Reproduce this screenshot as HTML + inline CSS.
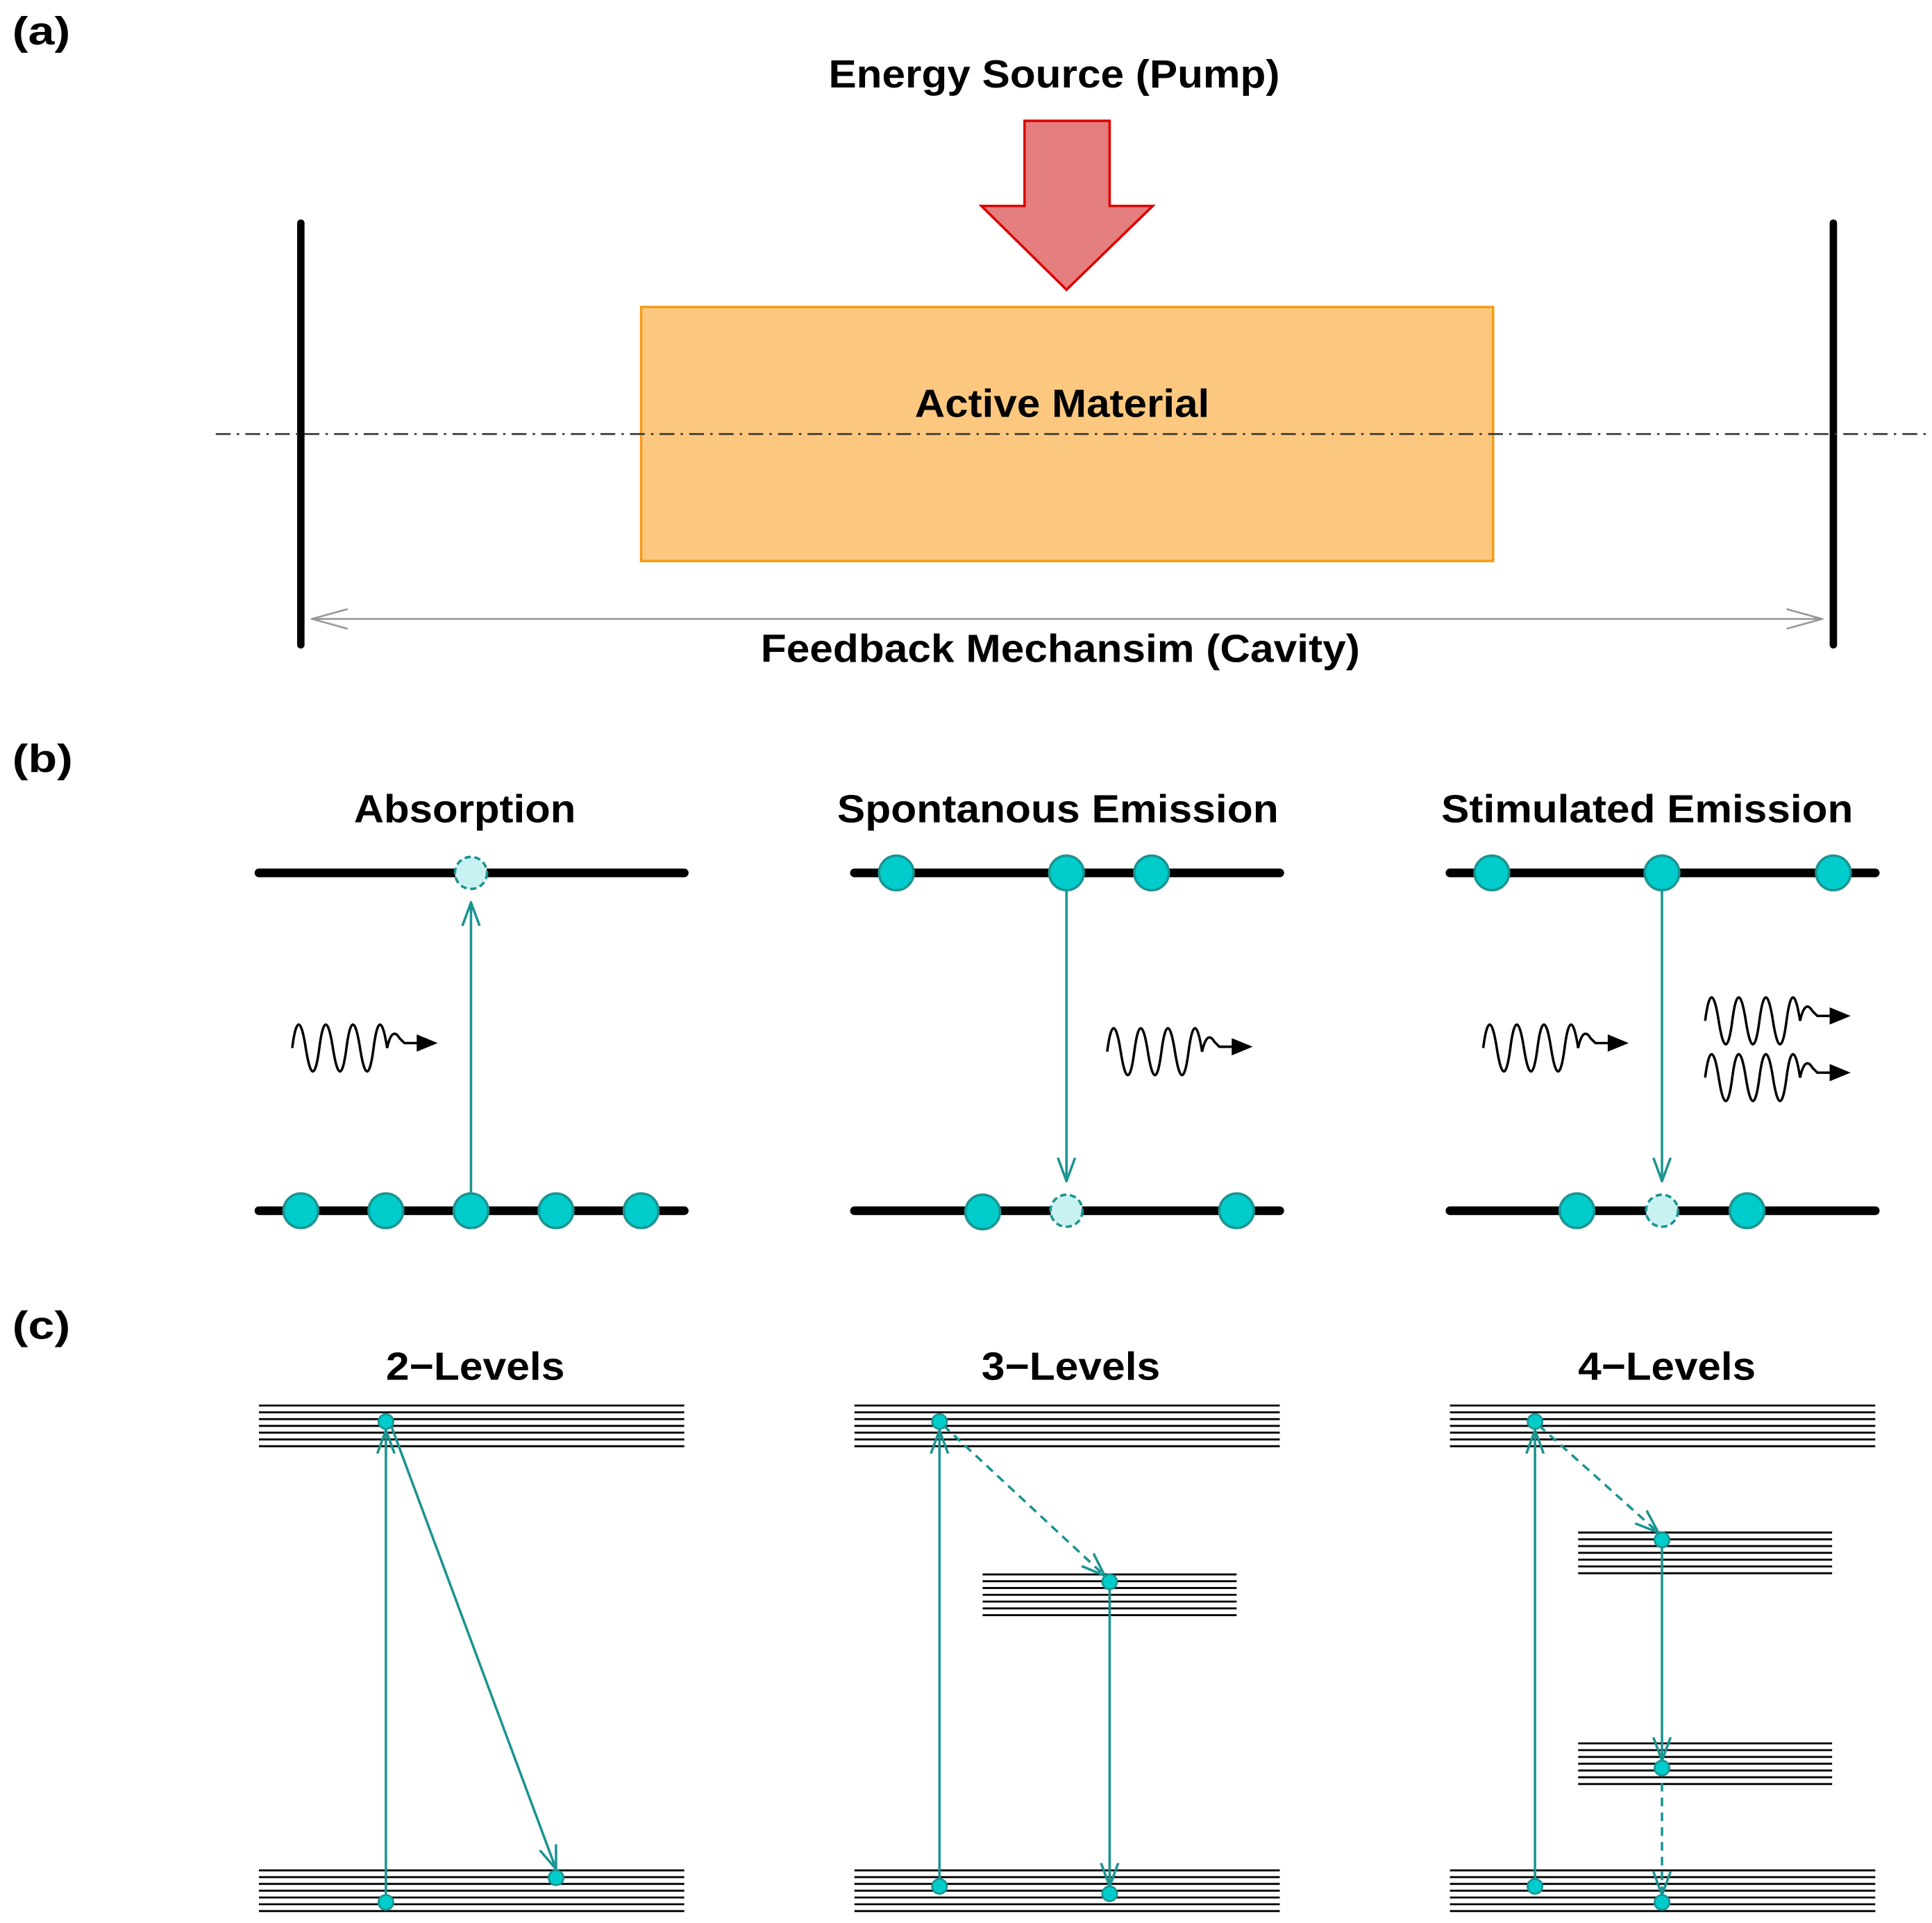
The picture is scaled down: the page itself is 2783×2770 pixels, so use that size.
<!DOCTYPE html>
<html><head><meta charset="utf-8"><style>
html,body{margin:0;padding:0;background:#fff}
svg{display:block}
text{font-family:"Liberation Sans",Arial,sans-serif;font-weight:bold;fill:#000}
</style></head><body>
<svg width="2783" height="2770" viewBox="0 0 1567 1559.7" preserveAspectRatio="none" xmlns="http://www.w3.org/2000/svg">
<defs>
<marker id="oa" viewBox="0 0 20 20" refX="19" refY="10" markerWidth="20" markerHeight="20" markerUnits="userSpaceOnUse" orient="auto">
<path d="M0,3 L19,10 L0,17" fill="none" stroke="#1a9490" stroke-width="2"/>
</marker>
<marker id="ga" viewBox="0 0 30 20" refX="29" refY="10" markerWidth="30" markerHeight="20" markerUnits="userSpaceOnUse" orient="auto-start-reverse">
<path d="M0,2 L29,10 L0,18" fill="none" stroke="#999" stroke-width="1.5"/>
</marker>
</defs>

<!-- (a) -->
<text x="10" y="36" font-size="32" textLength="47" lengthAdjust="spacingAndGlyphs">(a)</text>
<text x="672" y="71" font-size="32" textLength="366" lengthAdjust="spacingAndGlyphs">Energy Source (Pump)</text>
<path d="M831,98 L900,98 L900,167 L935,167 L865,235 L796,167 L831,167 Z" fill="#e57e7e" stroke="#dd0000" stroke-width="2"/>
<line x1="244" y1="181" x2="244" y2="523" stroke="#000" stroke-width="6" stroke-linecap="round"/>
<line x1="1487" y1="181" x2="1487" y2="523" stroke="#000" stroke-width="6" stroke-linecap="round"/>
<rect x="520" y="249" width="691" height="206" fill="#fcc880" stroke="#f59b14" stroke-width="2"/>
<text x="742" y="338" font-size="32" textLength="239" lengthAdjust="spacingAndGlyphs">Active Material</text>
<line x1="175" y1="352" x2="1567" y2="352" stroke="#333" stroke-width="1.5" stroke-dasharray="12,5,2,5"/>
<line x1="253" y1="502" x2="1478" y2="502" stroke="#999" stroke-width="1.5" marker-start="url(#ga)" marker-end="url(#ga)"/>
<text x="617" y="537" font-size="32" textLength="486" lengthAdjust="spacingAndGlyphs">Feedback Mechansim (Cavity)</text>

<!-- (b) -->
<text x="10" y="626" font-size="32" textLength="49" lengthAdjust="spacingAndGlyphs">(b)</text>
<text x="287" y="667" font-size="32" textLength="180" lengthAdjust="spacingAndGlyphs">Absorption</text>
<text x="679" y="667" font-size="32" textLength="358" lengthAdjust="spacingAndGlyphs">Spontanous Emission</text>
<text x="1169" y="667" font-size="32" textLength="334" lengthAdjust="spacingAndGlyphs">Stimulated Emission</text>
<g stroke="#000" stroke-width="7" stroke-linecap="round">
<line x1="210" y1="708" x2="555" y2="708"/><line x1="693" y1="708" x2="1038" y2="708"/><line x1="1176" y1="708" x2="1521" y2="708"/>
<line x1="210" y1="982" x2="555" y2="982"/><line x1="693" y1="982" x2="1038" y2="982"/><line x1="1176" y1="982" x2="1521" y2="982"/>
</g>
<g stroke="#1a9490" stroke-width="2" fill="none">
<line x1="382" y1="968" x2="382" y2="732" marker-end="url(#oa)"/>
<line x1="865" y1="722" x2="865" y2="958" marker-end="url(#oa)"/>
<line x1="1348" y1="722" x2="1348" y2="958" marker-end="url(#oa)"/>
</g>
<g fill="#00cccc" stroke="#1a9490" stroke-width="2">
<circle cx="244" cy="982" r="14"/><circle cx="313" cy="982" r="14"/><circle cx="382" cy="982" r="14"/><circle cx="451" cy="982" r="14"/><circle cx="520" cy="982" r="14"/>
<circle cx="727" cy="708" r="14"/><circle cx="865" cy="708" r="14"/><circle cx="934" cy="708" r="14"/>
<circle cx="797" cy="983" r="14"/><circle cx="1003" cy="982" r="14"/>
<circle cx="1210" cy="708" r="14"/><circle cx="1348" cy="708" r="14"/><circle cx="1487" cy="708" r="14"/>
<circle cx="1279" cy="982" r="14"/><circle cx="1417" cy="982" r="14"/>
</g>
<g fill="#c8f2f2" stroke="#1a9490" stroke-width="2" stroke-dasharray="5,3">
<circle cx="382" cy="708" r="13"/><circle cx="865" cy="982" r="13"/><circle cx="1348" cy="982" r="13"/>
</g>
<!-- waves -->
<g fill="none" stroke="#000" stroke-width="2">
<path id="w" d="M237,850 q5,-38 11,0 t11,0 t11,0 t11,0 t11,0 t11,0 t11,0 q4,-18 10,-8 l4,4 l14,0"/>
<use href="#w" x="661" y="3"/>
<use href="#w" x="966" y="0"/>
<use href="#w" x="1146" y="-22"/>
<use href="#w" x="1146" y="24"/>
</g>
<g fill="#000">
<path id="ah" d="M338,839 L355,846 L338,853 Z"/>
<use href="#ah" x="661" y="3"/>
<use href="#ah" x="966" y="0"/>
<use href="#ah" x="1146" y="-22"/>
<use href="#ah" x="1146" y="24"/>
</g>

<!-- (c) -->
<text x="10" y="1086" font-size="32" textLength="47" lengthAdjust="spacingAndGlyphs">(c)</text>
<text x="313" y="1119" font-size="32" textLength="145" lengthAdjust="spacingAndGlyphs">2−Levels</text>
<text x="796" y="1119" font-size="32" textLength="145" lengthAdjust="spacingAndGlyphs">3−Levels</text>
<text x="1280" y="1119" font-size="32" textLength="144" lengthAdjust="spacingAndGlyphs">4−Levels</text>
<g stroke="#000" stroke-width="1.6">
<g id="bandT">
<line x1="210" y1="1140" x2="555" y2="1140"/><line x1="210" y1="1145.5" x2="555" y2="1145.5"/><line x1="210" y1="1151" x2="555" y2="1151"/><line x1="210" y1="1156.5" x2="555" y2="1156.5"/><line x1="210" y1="1162" x2="555" y2="1162"/><line x1="210" y1="1167.5" x2="555" y2="1167.5"/><line x1="210" y1="1173" x2="555" y2="1173"/>
</g>
<use href="#bandT" x="483"/><use href="#bandT" x="966"/>
<use href="#bandT" y="377"/><use href="#bandT" x="483" y="377"/><use href="#bandT" x="966" y="377"/>
<g id="bandS">
<line x1="797" y1="1277" x2="1003" y2="1277"/><line x1="797" y1="1282.5" x2="1003" y2="1282.5"/><line x1="797" y1="1288" x2="1003" y2="1288"/><line x1="797" y1="1293.5" x2="1003" y2="1293.5"/><line x1="797" y1="1299" x2="1003" y2="1299"/><line x1="797" y1="1304.5" x2="1003" y2="1304.5"/><line x1="797" y1="1310" x2="1003" y2="1310"/>
</g>
<use href="#bandS" x="483" y="-34"/><use href="#bandS" x="483" y="137"/>
</g>
<g stroke="#1a9490" stroke-width="2" fill="none">
<line x1="313" y1="1543" x2="313" y2="1160" marker-end="url(#oa)"/>
<line x1="316" y1="1153" x2="451" y2="1516" marker-end="url(#oa)"/>
<line x1="762" y1="1530" x2="762" y2="1160" marker-end="url(#oa)"/>
<line x1="765" y1="1156" x2="896" y2="1278" marker-end="url(#oa)" stroke-dasharray="7,5"/>
<line x1="900" y1="1283" x2="900" y2="1530" marker-end="url(#oa)"/>
<line x1="1245" y1="1530" x2="1245" y2="1160" marker-end="url(#oa)"/>
<line x1="1248" y1="1156" x2="1345" y2="1243" marker-end="url(#oa)" stroke-dasharray="7,5"/>
<line x1="1348" y1="1249" x2="1348" y2="1428" marker-end="url(#oa)"/>
<line x1="1348" y1="1434" x2="1348" y2="1537" marker-end="url(#oa)" stroke-dasharray="7,5"/>
</g>
<g fill="#00cccc" stroke="#1a9490" stroke-width="1.5">
<circle cx="313" cy="1153" r="6"/><circle cx="313" cy="1543" r="6"/><circle cx="451" cy="1523" r="6"/>
<circle cx="762" cy="1153" r="6"/><circle cx="762" cy="1530" r="6"/><circle cx="900" cy="1283" r="6"/><circle cx="900" cy="1536" r="6"/>
<circle cx="1245" cy="1153" r="6"/><circle cx="1245" cy="1530" r="6"/><circle cx="1348" cy="1249" r="6"/><circle cx="1348" cy="1434" r="6"/><circle cx="1348" cy="1543" r="6"/>
</g>
</svg>
</body></html>
